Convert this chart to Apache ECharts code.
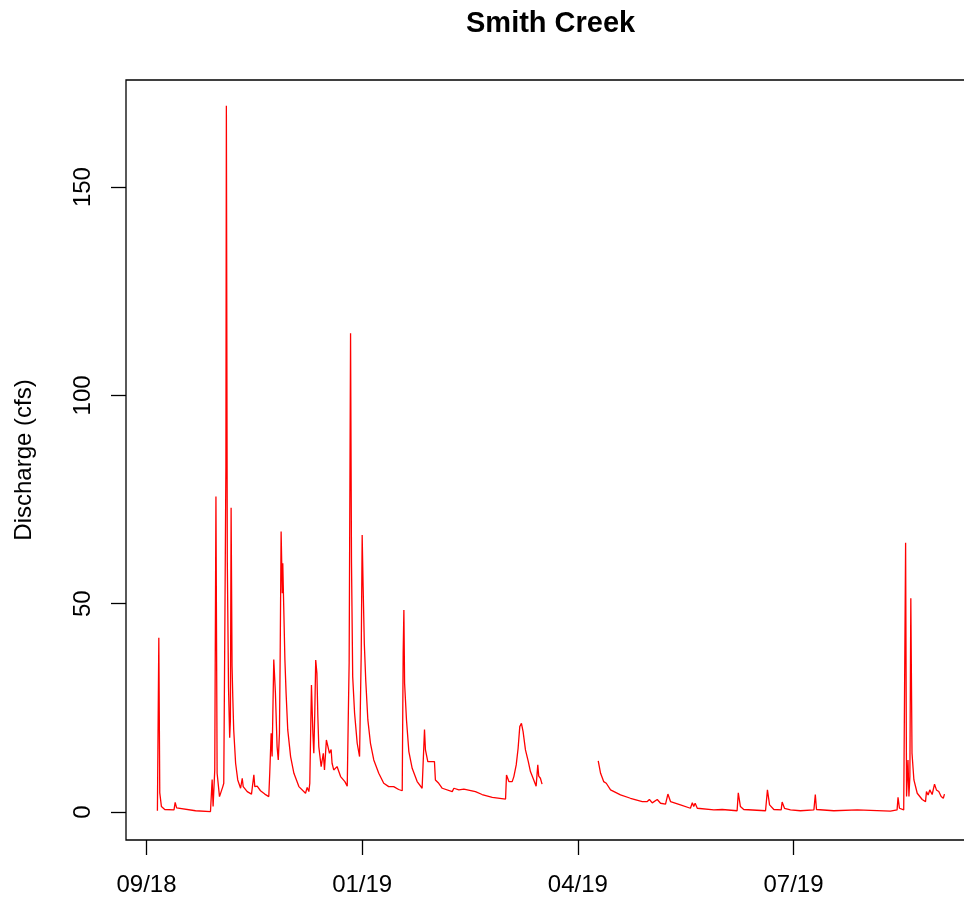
<!DOCTYPE html>
<html>
<head>
<meta charset="utf-8">
<script src="https://cdn.jsdelivr.net/npm/echarts@6/dist/echarts.min.js"></script>
<style>html,body{margin:0;padding:0;background:#fff;}#c{width:964px;height:903px;}</style>
</head>
<body>
<div id="c"></div>
<script>
// Days since the first tick (labelled 09/18)
const days = [4.6,5.2,5.6,6.3,7.7,11.6,12.1,12.7,13.5,20.7,27.0,27.7,28.1,28.8,29.3,29.8,30.8,31.5,32.2,32.6,
  33.0,33.1,33.5,33.7,34.1,34.6,35.1,35.4,35.7,36.1,36.4,36.8,37.6,38.5,39.7,40.4,40.8,42.5,44.3,45.3,45.7,46.7,48.1,49.9,
  51.6,52.0,52.6,53.0,53.7,54.4,55.1,55.6,56.1,56.4,56.8,57.3,57.5,57.9,58.4,58.9,59.6,60.8,62.2,64.3,67.1,67.8,68.5,
  68.9,69.6,70.2,70.6,71.0,71.4,71.9,72.3,72.7,73.7,74.6,75.1,75.9,76.7,77.2,77.9,78.3,79.0,80.4,81.9,83.7,84.7,
  85.1,85.5,86.1,86.5,87.0,87.8,88.9,89.9,90.6,91.0,91.4,91.9,92.5,93.4,94.5,95.9,98.0,100.1,102.2,104.3,106.4,107.9,
  108.3,108.6,108.9,109.7,110.7,112.1,114.2,116.3,117.3,117.7,118.7,121.5,121.9,123.3,124.8,129.0,129.7,131.8,133.9,
  138.8,141.6,145.9,151.5,151.9,152.9,154.3,155.0,156.0,156.8,157.5,158.2,158.9,159.9,161.1,162.0,163.4,164.4,165.1,
  165.5,166.2,166.9,178.0,
  190.6,191.6,192.9,194.0,195.8,200.0,204.2,209.2,209.8,211.3,212.2,213.4,215.5,216.9,219.0,220.0,221.1,225.3,229.5,
  230.3,230.9,231.5,232.4,239.4,242.9,249.2,249.7,250.6,252.0,261.2,262.0,262.9,264.7,267.8,268.2,269.2,271.7,275.9,
  281.6,282.2,282.7,290.0,299.9,300.6,313.9,316.7,317.1,317.7,319.5,320.3,320.7,321.3,321.7,322.1,322.5,323.0,323.8,
  325.2,327.3,328.7,329.1,329.8,330.5,331.5,332.5,333.3,334.3,335.3,336.2,336.7];
// Discharge (cfs); null marks the gap in the record
const flow = [0.3,41.8,4.6,1.3,0.6,0.5,2.3,1.0,0.6,0.3,0.1,7.8,1.3,10.1,75.7,9.3,3.7,4.9,6.1,6.9,
  6.9,48,83,169.5,60,30,17.8,22,73,35,27.7,19.7,11.7,7.7,5.7,8.1,6.1,4.9,4.3,8.9,6.1,6.2,5.1,4.3,
  3.7,9.3,18.9,13.3,36.6,28.5,15.7,12.5,18.9,37.3,67.3,52.5,59.7,49.3,36.5,28.5,19.7,13.3,9.3,6.1,4.5,5.9,4.9,
  6.9,30.5,18.9,14.1,23.7,36.5,33.3,22.9,15.7,10.9,14.1,10.1,17.3,16.9,14.1,15.0,11.7,10.1,10.9,8.5,7.3,6.2,
  21.3,35.7,114.9,59.7,32.5,23.7,16.5,13.3,38.1,66.5,54.1,40.5,31.7,22.1,16.5,12.5,9.3,6.9,6.1,6.1,5.4,5.1,
  38.1,48.5,30.9,22.1,14.5,10.5,7.3,5.7,19.8,14.9,12.1,12.1,7.7,6.9,5.7,4.9,5.7,5.3,5.5,
  4.9,4.2,3.5,3.1,8.9,7.3,7.3,8.5,11.3,15.3,20.5,21.3,19.3,14.9,12.1,9.7,7.7,6.2,11.3,
  8.6,8.1,6.7,null,
  12.3,9.3,7.3,6.9,5.3,4.1,3.3,2.5,2.9,2.5,3.0,2.2,3.0,2.1,1.9,4.3,2.5,1.7,0.9,
  2.2,1.3,2.1,0.9,0.5,0.6,0.3,4.6,1.3,0.6,0.3,5.3,1.7,0.6,0.5,2.4,0.9,0.5,0.3,
  0.5,4.2,0.6,0.3,0.5,0.2,0.2,0.5,3.5,0.9,0.5,64.6,3.7,12.5,3.7,8.5,51.3,14.1,7.7,
  4.5,3.0,2.5,4.9,4.1,5.3,4.2,6.7,5.3,4.9,3.7,3.3,4.3];
const xTicks = [0, 91, 182, 273];
const xTickLabels = ['09/18', '01/19', '04/19', '07/19'];
const yTicks = [0, 50, 100, 150];

const seriesData = days.map((d, i) => [d, flow[i] === null ? '-' : flow[i]]);
const font = 'Liberation Sans, Arial, sans-serif';

const chart = echarts.init(document.getElementById('c'), null, {renderer: 'canvas'});
chart.setOption({
  animation: false,
  backgroundColor: '#ffffff',
  title: {
    text: 'Smith Creek',
    left: 461, top: 4,
    textStyle: {fontFamily: font, fontSize: 29, fontWeight: 'bold', color: '#000'}
  },
  grid: {
    left: 126, width: 850, top: 80, bottom: 63,
    outerBoundsMode: 'none', containLabel: false,
    show: true, borderColor: '#000', borderWidth: 1.3, backgroundColor: 'transparent'
  },
  xAxis: {
    type: 'value', min: -8.65, max: 350.0,
    axisLine: {show: false, onZero: false},
    splitLine: {show: false},
    axisTick: {show: true, length: 15, inside: false, customValues: xTicks, lineStyle: {color: '#000', width: 1.3}},
    axisLabel: {
      customValues: xTicks,
      formatter: v => xTickLabels[xTicks.indexOf(v)] || '',
      fontFamily: font, fontSize: 24, color: '#000', margin: 33
    }
  },
  yAxis: {
    type: 'value', min: -6.72, max: 175.7,
    name: 'Discharge (cfs)', nameLocation: 'middle', nameGap: 90, nameRotate: 90,
    nameTextStyle: {fontFamily: font, fontSize: 24, color: '#000'},
    axisLine: {show: false, onZero: false},
    splitLine: {show: false},
    axisTick: {show: true, length: 15, inside: false, customValues: yTicks, lineStyle: {color: '#000', width: 1.3}},
    axisLabel: {
      customValues: yTicks, rotate: 90,
      fontFamily: font, fontSize: 24, color: '#000', margin: 31
    }
  },
  series: [{
    type: 'line',
    data: seriesData,
    showSymbol: false,
    connectNulls: false,
    lineStyle: {color: '#ff0000', width: 1.3},
    itemStyle: {color: '#ff0000'}
  }]
});
</script>
</body>
</html>
